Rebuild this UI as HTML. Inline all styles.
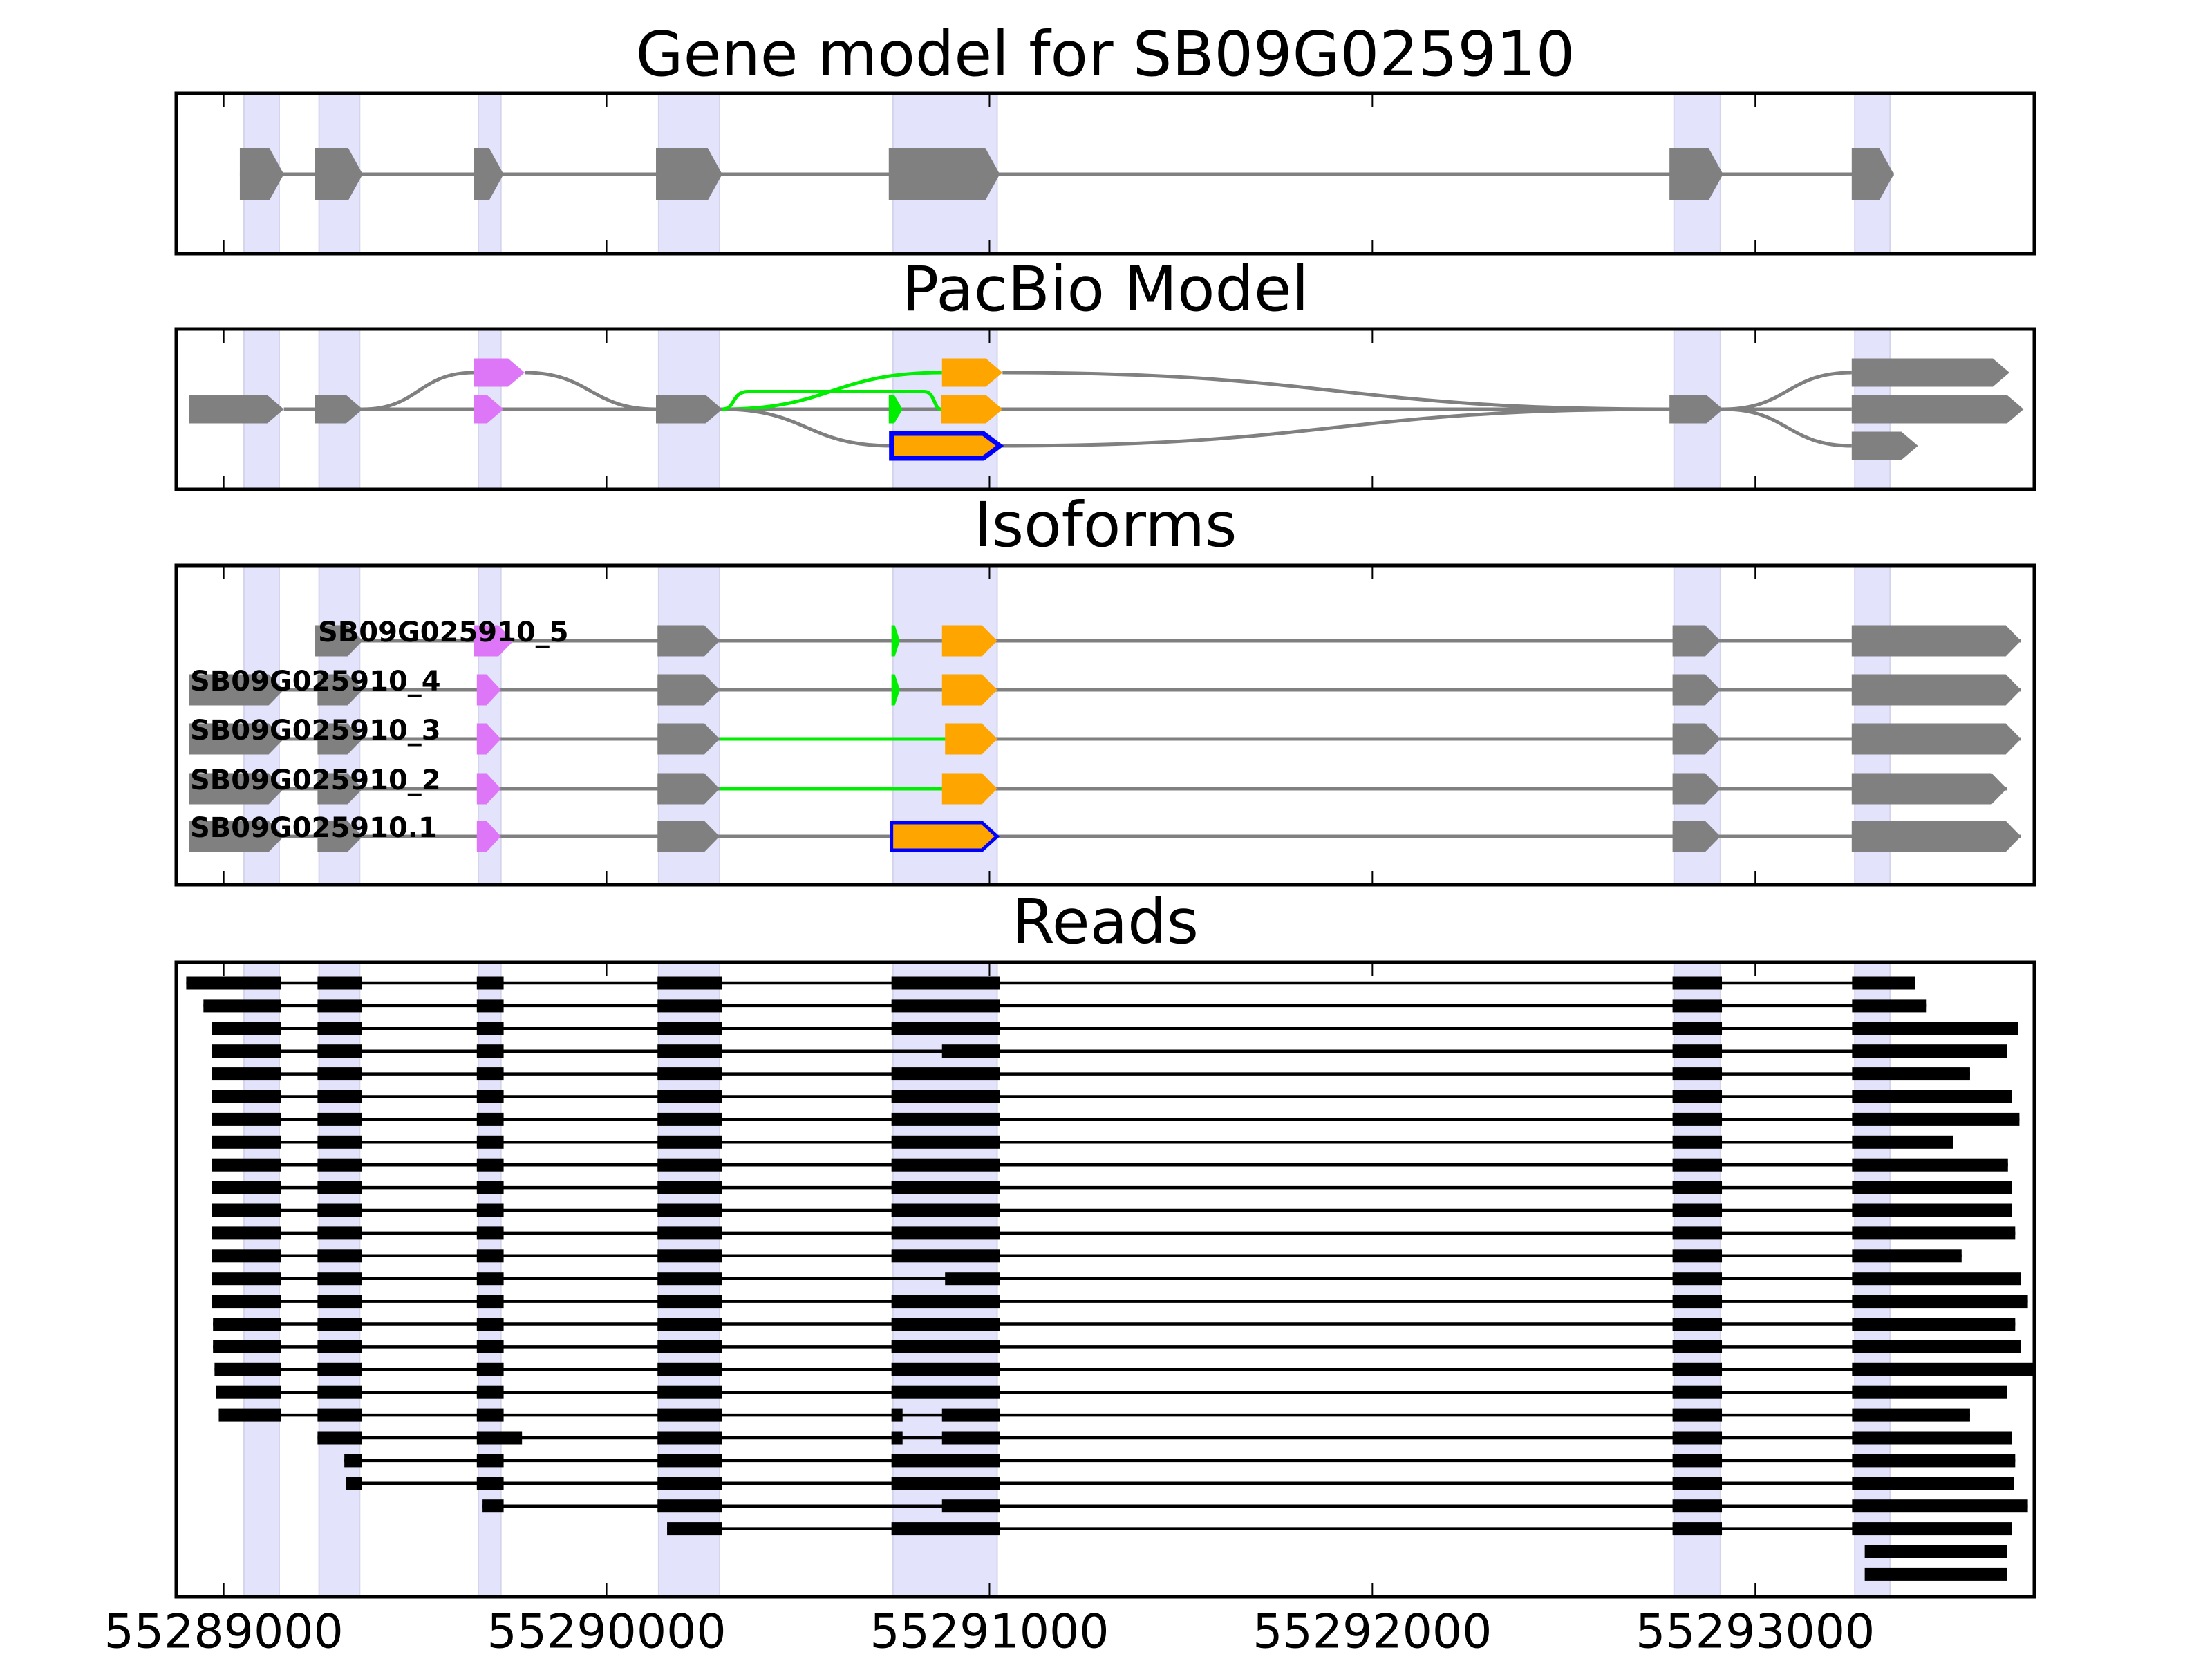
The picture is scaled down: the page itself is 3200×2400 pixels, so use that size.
<!DOCTYPE html>
<html><head><meta charset="utf-8"><style>
html,body{margin:0;padding:0;background:#fff;}
svg{display:block;font-family:"DejaVu Sans","Liberation Sans",sans-serif;}
</style></head><body>
<svg id="chart" width="3200" height="2400" viewBox="0 0 3200 2400" xmlns="http://www.w3.org/2000/svg"></svg>
<script>
const xDomain = [55288876, 55293729];
const xTicks = [55289000, 55290000, 55291000, 55292000, 55293000];
const xTickLabels = ["55289000", "55290000", "55291000", "55292000", "55293000"];
const panelTitles = ["Gene model for SB09G025910", "PacBio Model", "Isoforms", "Reads"];
const shadedRegions = [[55289053,55289145],[55289249,55289355],[55289665,55289724],[55290136,55290295],[55290748,55291020],[55292788,55292909],[55293260,55293352]];
const geneExons = [[55289042,55289157],[55289238,55289363],[55289654,55289731],[55290129,55290302],[55290737,55291027],[55292776,55292916],[55293252,55293362]];
// [start, end, row, color, outlined]
const pacbioExons = [
 [55288910,55289157,1,"#808080",0],[55289238,55289363,1,"#808080",0],
 [55289654,55289786,0,"#dd77f7",0],[55289654,55289731,1,"#dd77f7",0],
 [55290129,55290302,1,"#808080",0],[55290737,55290773,1,"#00ee00",0],
 [55290876,55291034,0,"#ffa500",0],[55290873,55291034,1,"#ffa500",0],
 [55290744,55291027,2,"#ffa500",1],
 [55292776,55292916,1,"#808080",0],
 [55293252,55293664,0,"#808080",0],[55293252,55293701,1,"#808080",0],[55293252,55293425,2,"#808080",0]];
// [x1,row1,x2,row2,color]
const pacbioJunctions = [
 [55289363,1,55289654,0,"#808080"],[55289786,0,55290129,1,"#808080"],
 [55289157,1,55293252,1,"#808080"],
 [55290302,1,55290876,0,"#00ee00"],
 [55290302,1,55290744,2,"#808080"],
 [55291034,0,55292776,1,"#808080"],[55291027,2,55292776,1,"#808080"],
 [55292916,1,55293252,0,"#808080"],[55292916,1,55293252,2,"#808080"]];
const isoformNames = ["SB09G025910_5","SB09G025910_4","SB09G025910_3","SB09G025910_2","SB09G025910.1"];
const isoformExons = [
 [[55289238,55289363,"#808080",0],[55289654,55289757,"#dd77f7",0],[55290133,55290295,"#808080",0],[55290744,55290766,"#00ee00",0],[55290876,55291020,"#ffa500",0],[55292784,55292909,"#808080",0],[55293252,55293694,"#808080",0]],
 [[55288910,55289157,"#808080",0],[55289245,55289363,"#808080",0],[55289661,55289724,"#dd77f7",0],[55290133,55290295,"#808080",0],[55290744,55290766,"#00ee00",0],[55290876,55291020,"#ffa500",0],[55292784,55292909,"#808080",0],[55293252,55293694,"#808080",0]],
 [[55288910,55289157,"#808080",0],[55289245,55289363,"#808080",0],[55289661,55289724,"#dd77f7",0],[55290133,55290295,"#808080",0],[55290884,55291020,"#ffa500",0],[55292784,55292909,"#808080",0],[55293252,55293694,"#808080",0]],
 [[55288910,55289157,"#808080",0],[55289245,55289363,"#808080",0],[55289661,55289724,"#dd77f7",0],[55290133,55290295,"#808080",0],[55290876,55291020,"#ffa500",0],[55292784,55292909,"#808080",0],[55293252,55293657,"#808080",0]],
 [[55288910,55289157,"#808080",0],[55289245,55289363,"#808080",0],[55289661,55289724,"#dd77f7",0],[55290133,55290295,"#808080",0],[55290744,55291020,"#ffa500",1],[55292784,55292909,"#808080",0],[55293252,55293694,"#808080",0]]];
const isoformGreenIntrons = [[],[],[55290295,55290884],[55290295,55290876],[]];
const reads = [
 [[55288902,55289149],[55289245,55289360],[55289661,55289731],[55290133,55290302],[55290744,55291027],[55292784,55292913],[55293253,55293417]],
 [[55288947,55289149],[55289245,55289360],[55289661,55289731],[55290133,55290302],[55290744,55291027],[55292784,55292913],[55293253,55293446]],
 [[55288969,55289149],[55289245,55289360],[55289661,55289731],[55290133,55290302],[55290744,55291027],[55292784,55292913],[55293253,55293686]],
 [[55288969,55289149],[55289245,55289360],[55289661,55289731],[55290133,55290302],[55290876,55291027],[55292784,55292913],[55293253,55293657]],
 [[55288969,55289149],[55289245,55289360],[55289661,55289731],[55290133,55290302],[55290744,55291027],[55292784,55292913],[55293253,55293561]],
 [[55288969,55289149],[55289245,55289360],[55289661,55289731],[55290133,55290302],[55290744,55291027],[55292784,55292913],[55293253,55293671]],
 [[55288969,55289149],[55289245,55289360],[55289661,55289731],[55290133,55290302],[55290744,55291027],[55292784,55292913],[55293253,55293690]],
 [[55288969,55289149],[55289245,55289360],[55289661,55289731],[55290133,55290302],[55290744,55291027],[55292784,55292913],[55293253,55293517]],
 [[55288969,55289149],[55289245,55289360],[55289661,55289731],[55290133,55290302],[55290744,55291027],[55292784,55292913],[55293253,55293660]],
 [[55288969,55289149],[55289245,55289360],[55289661,55289731],[55290133,55290302],[55290744,55291027],[55292784,55292913],[55293253,55293671]],
 [[55288969,55289149],[55289245,55289360],[55289661,55289731],[55290133,55290302],[55290744,55291027],[55292784,55292913],[55293253,55293671]],
 [[55288969,55289149],[55289245,55289360],[55289661,55289731],[55290133,55290302],[55290744,55291027],[55292784,55292913],[55293253,55293679]],
 [[55288969,55289149],[55289245,55289360],[55289661,55289731],[55290133,55290302],[55290744,55291027],[55292784,55292913],[55293253,55293539]],
 [[55288969,55289149],[55289245,55289360],[55289661,55289731],[55290133,55290302],[55290884,55291027],[55292784,55292913],[55293253,55293694]],
 [[55288969,55289149],[55289245,55289360],[55289661,55289731],[55290133,55290302],[55290744,55291027],[55292784,55292913],[55293253,55293712]],
 [[55288972,55289149],[55289245,55289360],[55289661,55289731],[55290133,55290302],[55290744,55291027],[55292784,55292913],[55293253,55293679]],
 [[55288972,55289149],[55289245,55289360],[55289661,55289731],[55290133,55290302],[55290744,55291027],[55292784,55292913],[55293253,55293694]],
 [[55288976,55289149],[55289245,55289360],[55289661,55289731],[55290133,55290302],[55290744,55291027],[55292784,55292913],[55293253,55293727]],
 [[55288980,55289149],[55289245,55289360],[55289661,55289731],[55290133,55290302],[55290744,55291027],[55292784,55292913],[55293253,55293657]],
 [[55288987,55289149],[55289245,55289360],[55289661,55289731],[55290133,55290302],[55290744,55290773],[55290876,55291027],[55292784,55292913],[55293253,55293561]],
 [[55289245,55289360],[55289661,55289779],[55290133,55290302],[55290744,55290773],[55290876,55291027],[55292784,55292913],[55293253,55293671]],
 [[55289315,55289360],[55289661,55289731],[55290133,55290302],[55290744,55291027],[55292784,55292913],[55293253,55293679]],
 [[55289319,55289360],[55289661,55289731],[55290133,55290302],[55290744,55291027],[55292784,55292913],[55293253,55293675]],
 [[55289676,55289731],[55290133,55290302],[55290876,55291027],[55292784,55292913],[55293253,55293712]],
 [[55290158,55290302],[55290744,55291027],[55292784,55292913],[55293253,55293671]],
 [[55293286,55293657]],
 [[55293286,55293657]]];

const NS = "http://www.w3.org/2000/svg";
const svg = document.getElementById("chart");
const AX = {left:255, right:2943};
const panels = [{top:135,bottom:367,title:78},{top:476,bottom:708,title:418},{top:818,bottom:1280,title:759},{top:1392,bottom:2310,title:1333}];
function xs(v){return AX.left + (v - xDomain[0])/(xDomain[1]-xDomain[0])*(AX.right-AX.left);}
function mk(tag, attrs, parent){const e=document.createElementNS(NS,tag);for(const k in attrs)e.setAttribute(k,attrs[k]);(parent||svg).appendChild(e);return e;}
function exonPts(x1,x2,yc,h,tipMax){const w=x2-x1;const t=Math.min(tipMax,w*0.6);return [[x1,yc-h/2],[x2-t,yc-h/2],[x2,yc],[x2-t,yc+h/2],[x1,yc+h/2]].map(p=>p.join(",")).join(" ");}

panels.forEach((p,i)=>{
  const g = mk("g",{});
  
  
  const t = mk("text",{x:1599,y:p.title,"font-size":89,"text-anchor":"middle","dominant-baseline":"central",fill:"#000"},g);
  
  
  t.textContent = panelTitles[i];
  shadedRegions.forEach(r=>{
    const s = mk("rect",{x:xs(r[0]),y:p.top,width:xs(r[1])-xs(r[0]),height:p.bottom-p.top,fill:"#e3e3fb",stroke:"#d4d4ec","stroke-width":2},g);
    
    
  });
  p.g = g;
});

// Gene model
const gm = panels[0], gmY = 252;
mk("line",{x1:xs(geneExons[0][0]),x2:xs(geneExons[geneExons.length-1][1]),y1:gmY,y2:gmY,stroke:"#808080","stroke-width":5},gm.g);
geneExons.forEach(e=>{
  const el = mk("polygon",{points:exonPts(xs(e[0]),xs(e[1]),gmY,76,21),fill:"#808080"},gm.g);
  
  
});

// PacBio
const pb = panels[1], pbRows=[539,592,645];
pacbioJunctions.forEach(j=>{
  const x1=xs(j[0]),x2=xs(j[2]),y1=pbRows[j[1]],y2=pbRows[j[3]],xm=(x1+x2)/2;
  const d = y1===y2 ? `M${x1},${y1}L${x2},${y2}` : `M${x1},${y1}C${xm},${y1} ${xm},${y2} ${x2},${y2}`;
  const el = mk("path",{d:d,fill:"none",stroke:j[4],"stroke-width":5},pb.g);
  
  
});
(function(){
  const x1=xs(55290302),y1=pbRows[1],ym=(pbRows[0]+pbRows[1])/2+1,xa=xs(55290370),xb=xs(55290830),x2=xs(55290873);
  const el = mk("path",{d:`M${x1},${y1}C${x1+20},${y1} ${xa-25},${ym} ${xa},${ym}L${xb},${ym}C${xb+15},${ym} ${x2-10},${y1} ${x2},${y1}`,fill:"none",stroke:"#00ee00","stroke-width":5},pb.g);
  
  
})();
pacbioExons.forEach(e=>{
  const el = mk("polygon",{points:exonPts(xs(e[0]),xs(e[1]),pbRows[e[2]],e[4]?36:41,24),fill:e[3],stroke:e[4]?"#0000ff":"none","stroke-width":e[4]?7:0},pb.g);
  
  
});

// Isoforms
const iso = panels[2], isoRows=[927,998,1069,1141,1210];
isoformExons.forEach((ex,i)=>{
  const y=isoRows[i];
  const line = mk("line",{x1:xs(ex[0][0]),x2:xs(ex[ex.length-1][1]),y1:y,y2:y,stroke:"#808080","stroke-width":5},iso.g);
  
  
  const gi = isoformGreenIntrons[i];
  if(gi.length){
    const gl = mk("line",{x1:xs(gi[0]),x2:xs(gi[1]),y1:y,y2:y,stroke:"#00ee00","stroke-width":5},iso.g);
    
    
  }
  ex.forEach(e=>{
    const el = mk("polygon",{points:exonPts(xs(e[0]),xs(e[1]),y,e[3]?40:45,22),fill:e[2],stroke:e[3]?"#0000ff":"none","stroke-width":e[3]?5:0},iso.g);
    
    
  });
  const lbl = mk("text",{x:i===0?460:275,y:y-12,"font-size":40,"font-weight":"bold","dominant-baseline":"central",fill:"#000"},iso.g);
  
  
  lbl.textContent = isoformNames[i];
});

// Reads
const rd = panels[3], readY0=1422, readStep=32.9;
reads.forEach((r,i)=>{
  const y = readY0 + i*readStep;
  const g = mk("g",{},rd.g);
  
  
  if(r.length>1) mk("line",{x1:xs(r[0][0]),x2:xs(r[r.length-1][1]),y1:y,y2:y,stroke:"#000","stroke-width":4.5},g);
  r.forEach(e=>{
    const el = mk("rect",{x:xs(e[0]),y:y-9.5,width:Math.max(1,xs(e[1])-xs(e[0])),height:19,fill:"#000"},g);
    
    
  });
});

// Axes frames & ticks
panels.forEach((p,i)=>{
  xTicks.forEach((t,k)=>{
    const x=xs(t);
    mk("line",{x1:x,x2:x,y1:p.top,y2:p.top+20,stroke:"#000","stroke-width":2},p.g);
    mk("line",{x1:x,x2:x,y1:p.bottom,y2:p.bottom-20,stroke:"#000","stroke-width":2},p.g);
    if(i===3){
      const tl = mk("text",{x:x,y:2361,"font-size":68,"text-anchor":"middle","dominant-baseline":"central",fill:"#000"},p.g);
      
      
      tl.textContent = xTickLabels[k];
    }
  });
  const f = mk("rect",{x:AX.left,y:p.top,width:AX.right-AX.left,height:p.bottom-p.top,fill:"none",stroke:"#000","stroke-width":5},p.g);
  
  
});
</script>
</body></html>
